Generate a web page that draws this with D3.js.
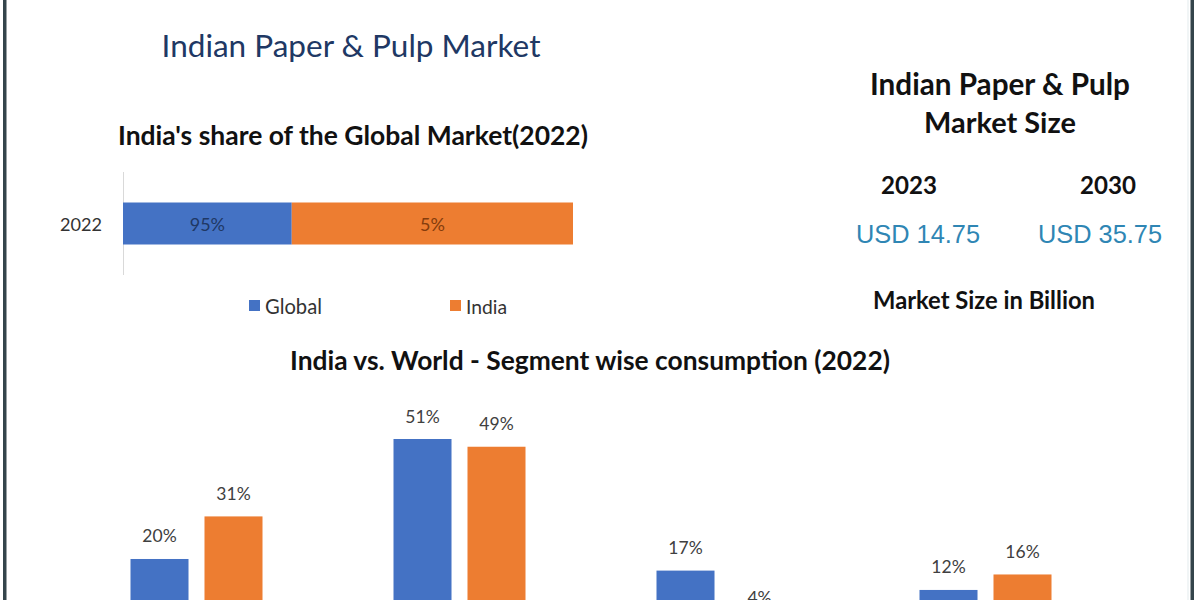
<!DOCTYPE html>
<html>
<head>
<meta charset="utf-8">
<script src="https://cdn.jsdelivr.net/npm/d3@7"></script>
<style>
  html, body { margin: 0; padding: 0; background: #ffffff; }
  svg { display: block; }
</style>
</head>
<body>
<svg id="chart" width="1200" height="600"></svg>
<script>
// ---------------- DATA ----------------
const mainTitle = "Indian Paper & Pulp Market";
const shareTitle = "India's share of the Global Market(2022)";
const shareCategory = ["2022"];
const shareSeries = ["Global", "India"];
const shareWidths = [37.5, 62.5];          // segment lengths as drawn in the picture
const shareLabels = ["95%", "5%"];         // data labels printed on the segments

const sizeTitleLines = ["Indian Paper & Pulp", "Market Size"];
const sizeYears = ["2023", "2030"];
const sizeValues = [14.75, 35.75];
const sizeUnit = "Market Size in Billion";

const segTitle = "India vs. World - Segment wise consumption (2022)";
const segCategories = ["Writing & Printing", "Packaging", "Newsprint", "Others"];
const segSeries = ["Global", "India"];
const segGlobal = [20, 51, 17, 12];
const segIndia = [31, 49, 4, 16];

// ---------------- STYLE ----------------
const BLUE = "#4472c4", ORANGE = "#ed7d31";
const CAL = "Lato, 'Open Sans', 'Noto Sans', sans-serif";
const svg = d3.select("#chart");

function fit(sel, w) {
  const n = sel.node();
  const cur = n.getComputedTextLength();
  const fs = parseFloat(sel.attr("font-size"));
  sel.attr("font-size", (fs * w / cur).toFixed(2));
  return sel;
}
function text(x, y, str, opts) {
  const t = svg.append("text")
    .attr("x", x).attr("y", y)
    .attr("text-anchor", opts.anchor || "middle")
    .attr("dominant-baseline", "central")
    .attr("font-family", opts.family || CAL)
    .attr("font-weight", opts.weight || "normal")
    .attr("font-size", opts.size || 16)
    .attr("fill", opts.color || "#000")
    .text(str);
  if (opts.width) fit(t, opts.width);
  return t;
}

// frame borders
svg.append("rect").attr("x", 3).attr("y", 0).attr("width", 3.5).attr("height", 600).attr("fill", "#34454b");
svg.append("rect").attr("x", 1190.5).attr("y", 0).attr("width", 3.5).attr("height", 600).attr("fill", "#34454b");
svg.append("rect").attr("x", 1187.5).attr("y", 0).attr("width", 1).attr("height", 600).attr("fill", "#e3ecee");

// ---------------- TITLES ----------------
text(351, 45, mainTitle, { size: 24, color: "#203864", width: 379 });
text(353, 135, shareTitle, { size: 22, weight: "bold", color: "#111", width: 470 });

// ---------------- TOP STACKED BAR ----------------
const xs = d3.scaleLinear().domain([0, d3.sum(shareWidths)]).range([123, 573]);
const ys = d3.scaleBand().domain(shareCategory).range([172, 275]).paddingInner(0).paddingOuter(0.3);
svg.append("line").attr("x1", 123.5).attr("x2", 123.5).attr("y1", 172).attr("y2", 275)
  .attr("stroke", "#d9d9d9").attr("stroke-width", 1);

let acc = 0;
const stack = shareWidths.map((v, i) => { const s = { i, x0: acc, x1: acc + v }; acc += v; return s; });
const shareColors = [BLUE, ORANGE];
const shareLabelColors = ["#1f3864", "#843c0c"];
svg.selectAll(".seg").data(stack).join("rect")
  .attr("class", "seg")
  .attr("x", d => xs(d.x0)).attr("width", d => xs(d.x1) - xs(d.x0))
  .attr("y", ys("2022") + (ys.bandwidth() - 42) / 2).attr("height", 42)
  .attr("fill", d => shareColors[d.i]);
stack.forEach(d => {
  text((xs(d.x0) + xs(d.x1)) / 2, ys("2022") + ys.bandwidth() / 2, shareLabels[d.i],
    { size: 18, color: shareLabelColors[d.i] });
});
text(102, ys("2022") + ys.bandwidth() / 2, shareCategory[0], { anchor: "end", size: 18, color: "#333", width: 42 });

// legend
const legX = [249, 450];
const legW = [57, 41];
shareSeries.forEach((s, i) => {
  svg.append("rect").attr("x", legX[i]).attr("y", 300).attr("width", 11).attr("height", 11).attr("fill", shareColors[i]);
  text(legX[i] + 16, 306, s, { anchor: "start", size: 18, color: "#333", width: legW[i] });
});

// ---------------- RIGHT PANEL ----------------
text(1000, 83, sizeTitleLines[0], { size: 24, weight: "bold", color: "#111", width: 260 });
text(1000, 121, sizeTitleLines[1], { size: 24, weight: "bold", color: "#111", width: 152 });
const yearX = [909, 1108], usdX = [918, 1100];
sizeYears.forEach((y, i) => {
  text(yearX[i], 184, y, { size: 22, weight: "bold", color: "#111", width: 56 });
  text(usdX[i], 234, "USD " + sizeValues[i].toFixed(2), { size: 21, family: "'Liberation Sans', Arial, sans-serif", color: "#2f86b4", width: 124 });
});
text(984, 300, sizeUnit, { size: 19, weight: "bold", color: "#111", width: 222 });

// ---------------- BOTTOM GROUPED BARS ----------------
text(590, 360, segTitle, { size: 22, weight: "bold", color: "#111", width: 600 });
const x0 = d3.scaleBand().domain(segCategories).range([65, 1117]).paddingInner(0).paddingOuter(0);
const x1 = d3.scaleBand().domain(segSeries).range([x0.bandwidth() / 2 - 66, x0.bandwidth() / 2 + 66]).paddingInner(0.216).paddingOuter(0);
const yb = d3.scaleLinear().domain([0, 51]).range([636.4, 439]);
const segRows = segCategories.map((c, i) => ({ c, vals: [
  { s: "Global", v: segGlobal[i], color: BLUE },
  { s: "India", v: segIndia[i], color: ORANGE }
]}));
const g = svg.selectAll(".grp").data(segRows).join("g").attr("class", "grp")
  .attr("transform", d => `translate(${x0(d.c)},0)`);
g.selectAll("rect").data(d => d.vals).join("rect")
  .attr("x", d => x1(d.s)).attr("width", x1.bandwidth())
  .attr("y", d => yb(d.v)).attr("height", d => yb(0) - yb(d.v))
  .attr("fill", d => d.color);
g.selectAll("text").data(d => d.vals).join("text")
  .attr("x", d => x1(d.s) + x1.bandwidth() / 2)
  .attr("y", d => yb(d.v) - 23)
  .attr("text-anchor", "middle").attr("dominant-baseline", "central")
  .attr("font-family", CAL).attr("font-size", 17.5).attr("fill", "#404040")
  .text(d => d.v + "%");
</script>
</body>
</html>
